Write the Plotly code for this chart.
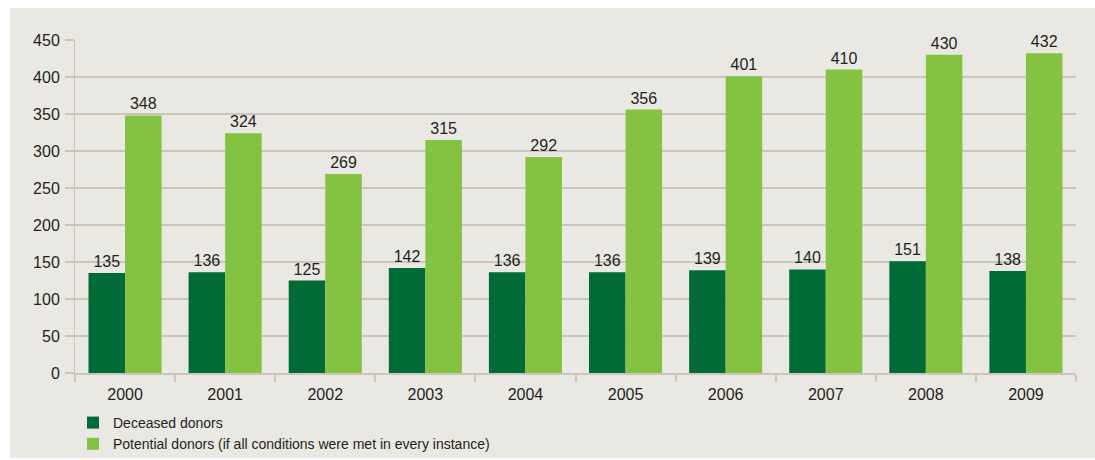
import plotly.graph_objects as go

years = ["2000", "2001", "2002", "2003", "2004", "2005", "2006", "2007", "2008", "2009"]
deceased = [135, 136, 125, 142, 136, 136, 139, 140, 151, 138]
potential = [348, 324, 269, 315, 292, 356, 401, 410, 430, 432]

W, H = 1095, 460
ML, MR, MT, MB = 75, 19, 40, 87
PW, PH = W - ML - MR, H - MT - MB

TEXT = "#231F20"
GRID = "#CCC5B9"
PANEL = "#EAE8E3"
FONT = "Liberation Sans, Arial, sans-serif"


def px_to_paper_x(px):
    return (px - ML) / PW


def px_to_paper_y(py):
    return (H - MB - py) / PH


fig = go.Figure()
fig.add_trace(go.Bar(
    x=years, y=deceased, name="Deceased donors",
    marker=dict(color="#006B36", line=dict(width=0)),
    text=deceased, textposition="outside", cliponaxis=False,
    textfont=dict(size=16, color=TEXT, family=FONT),
))
fig.add_trace(go.Bar(
    x=years, y=potential,
    name="Potential donors (if all conditions were met in every instance)",
    marker=dict(color="#84C341", line=dict(width=0)),
    text=potential, textposition="outside", cliponaxis=False,
    textfont=dict(size=16, color=TEXT, family=FONT),
))

# beige panel behind the whole chart
fig.add_shape(
    type="rect", xref="paper", yref="paper", layer="below",
    x0=px_to_paper_x(10), x1=px_to_paper_x(W + 5),
    y0=px_to_paper_y(458), y1=px_to_paper_y(8),
    fillcolor=PANEL, line=dict(width=0),
)

fig.update_layout(
    width=W, height=H,
    margin=dict(l=ML, r=MR, t=MT, b=MB, autoexpand=False),
    paper_bgcolor="white", plot_bgcolor="rgba(0,0,0,0)",
    barmode="group", bargap=0.27, bargroupgap=0,
    font=dict(family=FONT, color=TEXT, size=16),
    showlegend=True,
    legend=dict(
        x=px_to_paper_x(73), xanchor="left",
        y=px_to_paper_y(407), yanchor="top",
        bgcolor="rgba(0,0,0,0)", font=dict(size=14, color=TEXT, family=FONT),
        traceorder="normal", tracegroupgap=0,
    ),
    xaxis=dict(
        type="category", showgrid=False, showline=True, linecolor=GRID, linewidth=2,
        ticks="outside", tickson="boundaries", ticklen=7, tickcolor=GRID, tickwidth=2,
        tickfont=dict(size=16, color=TEXT), automargin=False, ticklabelstandoff=6,
    ),
    yaxis=dict(
        range=[0, 450], dtick=50, showgrid=True, gridcolor=GRID, gridwidth=1.5,
        showline=True, linecolor=GRID, linewidth=1, zeroline=False,
        ticks="outside", ticklen=9, tickcolor=GRID, tickwidth=1.5,
        tickfont=dict(size=16, color=TEXT), automargin=False, ticklabelstandoff=2,
    ),
)

fig.write_html("out.html")
